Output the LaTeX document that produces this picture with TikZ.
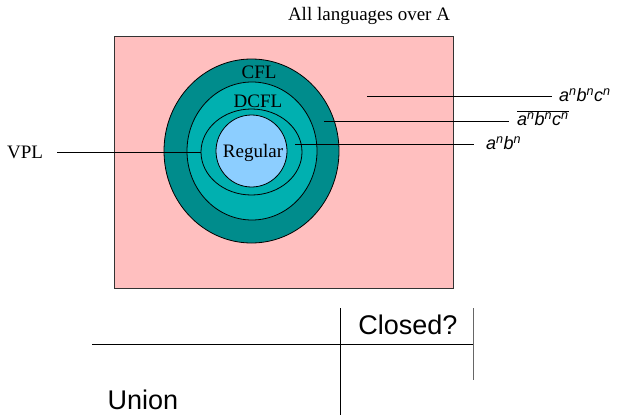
\documentclass[tikz,border=0pt]{standalone}
\usepackage{fontspec}
\setmainfont{Liberation Serif}
\setsansfont{Liberation Sans}
\definecolor{langpink}{RGB}{255,191,191}
\definecolor{cflteal}{RGB}{0,140,140}
\definecolor{dcflteal}{RGB}{0,176,176}
\definecolor{regblue}{RGB}{140,206,255}
\tikzset{
  ring/.style={draw=black,line width=0.8pt},
  lbl/.style={font=\fontsize{19}{22}\selectfont,inner sep=0pt},
  lang/.style={font=\fontsize{18}{21}\sffamily\itshape\selectfont,inner sep=0pt,anchor=west},
  cell/.style={font=\fontsize{27}{30}\sffamily\selectfont,inner sep=0pt},
  leader/.style={draw=black,line width=0.8pt},
}
\begin{document}
\begin{tikzpicture}[x=1pt,y=-1pt]
\useasboundingbox (0,0) rectangle (618,415);
\node[lbl] (all) at (369,16) {All languages over A};
\draw[fill=langpink,draw=black!80,line width=1pt] (114,36) rectangle (453,288);
\draw[ring,fill=cflteal] (251.5,151) ellipse (87.5pt and 92pt);
\draw[ring,fill=dcflteal] (252,151) ellipse (65pt and 69pt);
\draw[ring,fill=dcflteal] (251.5,152) ellipse (50.5pt and 43pt);
\draw[ring,fill=regblue] (251.5,151) ellipse (35.5pt and 36pt);
\node[lbl] (cfl) at (259,72) {CFL};
\node[lbl] (dcfl) at (258,101) {DCFL};
\node[lbl] (reg) at (253,153) {Regular};
\node[lbl] (vpl) at (25,152) {VPL};
\node[lang] (abc) at (559,95) {a\textsuperscript{n}b\textsuperscript{n}c\textsuperscript{n}};
\node[lang] (notabc) at (517,118) {$\overline{\hbox{a\textsuperscript{n}b\textsuperscript{n}c\textsuperscript{n}}}$};
\node[lang] (ab) at (486,143) {a\textsuperscript{n}b\textsuperscript{n}};
\coordinate (inall) at (367,96);
\coordinate (incfl) at (324,121);
\coordinate (indcfl) at (295,144);
\coordinate (invpl) at (201,152);
\draw[leader,shorten >=7pt] (inall) -- (abc.west |- inall);
\draw[leader,shorten >=8pt] (incfl) -- (notabc.west |- incfl);
\draw[leader,shorten >=12pt] (indcfl) -- (ab.west |- indcfl);
\draw[leader,shorten <=14pt] (vpl.east) -- (invpl);
\draw[line width=0.8pt] (92,344) -- (474,344);
\draw[line width=0.8pt] (340,308) -- (340,415);
\draw[line width=0.8pt,black!60] (473,308) -- (473,380);
\node[cell] (closed) at (408,325) {Closed?};
\node[cell] (union) at (143,400) {Union};
\end{tikzpicture}
\end{document}
